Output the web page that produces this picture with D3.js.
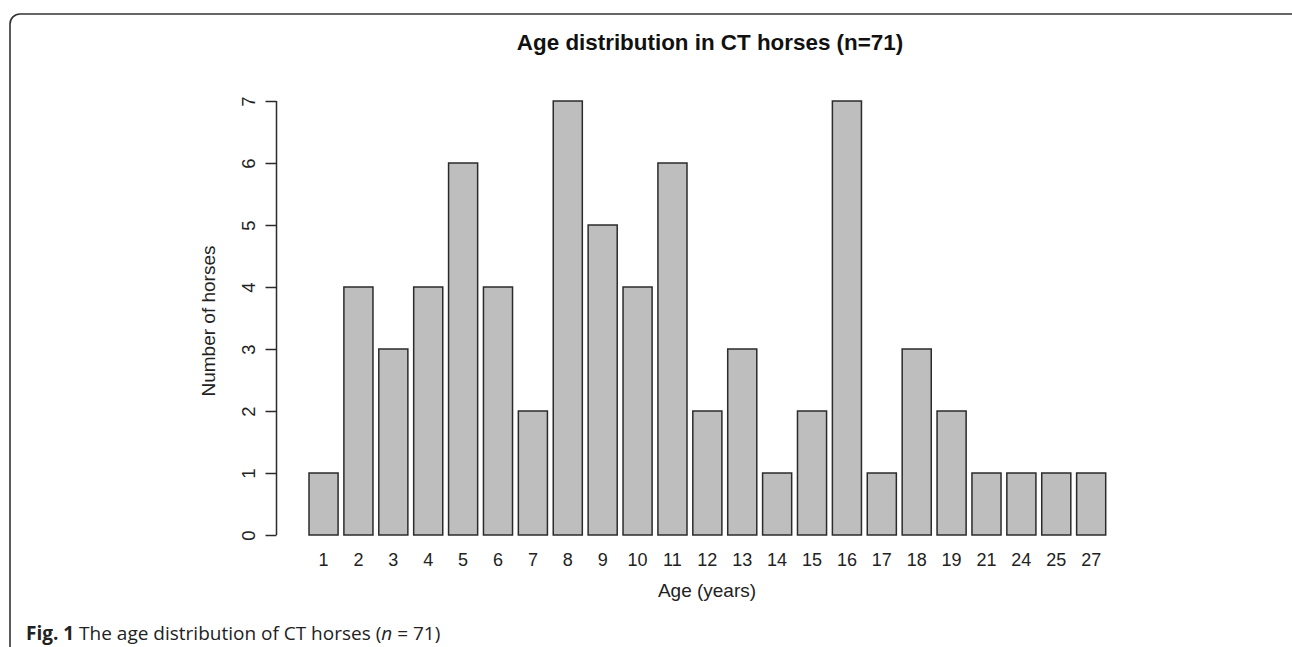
<!DOCTYPE html>
<html>
<head>
<meta charset="utf-8">
<script src="https://cdn.jsdelivr.net/npm/d3@7"></script>
<style>
  html, body { margin: 0; padding: 0; background: #fff; }
  svg { display: block; }
</style>
</head>
<body>
<svg id="chart" width="1292" height="647"></svg>
<script>
const ages = ["1","2","3","4","5","6","7","8","9","10","11","12","13","14","15","16","17","18","19","21","24","25","27"];
const counts = [1,4,3,4,6,4,2,7,5,4,6,2,3,1,2,7,1,3,2,1,1,1,1];
const yTicks = [0,1,2,3,4,5,6,7];
const titleText = "Age distribution in CT horses (n=71)";
const xLabel = "Age (years)";
const yLabel = "Number of horses";

const svg = d3.select("#chart");
const ink = "#2b2b2b";

// Frame (rounded border)
svg.append("rect")
  .attr("x", 10).attr("y", 14)
  .attr("width", 1294).attr("height", 700)
  .attr("rx", 10).attr("ry", 10)
  .attr("fill", "none").attr("stroke", "#333").attr("stroke-width", 1.6);

const x = d3.scaleBand()
  .domain(ages)
  .range([309, 1105.7])
  .paddingInner(0.2 / 1.2)
  .paddingOuter(0);

const y = d3.scaleLinear().domain([0, 7]).range([535, 101]);

// Bars
svg.append("g").selectAll("rect")
  .data(ages.map((a, i) => ({ age: a, n: counts[i] })))
  .join("rect")
  .attr("x", d => x(d.age))
  .attr("y", d => y(d.n))
  .attr("width", x.bandwidth())
  .attr("height", d => y(0) - y(d.n))
  .attr("fill", "#bebebe")
  .attr("stroke", ink)
  .attr("stroke-width", 1.5);

// Y axis
const yAxis = svg.append("g")
  .attr("transform", "translate(276.5,0)")
  .call(d3.axisLeft(y).tickValues(yTicks).tickSize(11).tickSizeOuter(0).tickFormat(d3.format("d")));
yAxis.select(".domain").attr("stroke", ink).attr("stroke-width", 1.5).attr("d", `M0,${y(0)}V${y(7)}`);
yAxis.selectAll(".tick line").attr("stroke", ink).attr("stroke-width", 1.5);
yAxis.selectAll(".tick text")
  .attr("x", null).attr("dy", null)
  .attr("transform", "translate(-21.5,0) rotate(-90)")
  .attr("text-anchor", "middle")
  .attr("fill", "#222")
  .style("font-family", "Liberation Sans, Arial, sans-serif")
  .style("font-size", "18.5px");

// X labels
svg.append("g").selectAll("text")
  .data(ages)
  .join("text")
  .attr("x", d => x(d) + x.bandwidth() / 2)
  .attr("y", 566)
  .attr("text-anchor", "middle")
  .attr("fill", "#222")
  .style("font-family", "Liberation Sans, Arial, sans-serif")
  .style("font-size", "18px")
  .text(d => d);

// Title
svg.append("text")
  .attr("x", 710).attr("y", 50)
  .attr("text-anchor", "middle")
  .attr("fill", "#111")
  .style("font-family", "Liberation Sans, Arial, sans-serif")
  .style("font-weight", "bold")
  .style("font-size", "22.4px")
  .text(titleText);

// Axis titles
svg.append("text")
  .attr("x", 707).attr("y", 597)
  .attr("text-anchor", "middle")
  .attr("fill", "#222")
  .style("font-family", "Liberation Sans, Arial, sans-serif")
  .style("font-size", "19px")
  .text(xLabel);

svg.append("text")
  .attr("transform", "translate(215,321) rotate(-90)")
  .attr("text-anchor", "middle")
  .attr("fill", "#222")
  .style("font-family", "Liberation Sans, Arial, sans-serif")
  .style("font-size", "19px")
  .text(yLabel);

// Caption
const cap = svg.append("text")
  .attr("x", 26).attr("y", 640)
  .attr("fill", "#222")
  .style("font-family", "Open Sans, sans-serif")
  .style("font-size", "19px");
cap.append("tspan").style("font-weight", "bold").text("Fig. 1");
cap.append("tspan").text(" The age distribution of CT horses (");
cap.append("tspan").style("font-style", "italic").text("n");
cap.append("tspan").text(" = 71)");
</script>
</body>
</html>
